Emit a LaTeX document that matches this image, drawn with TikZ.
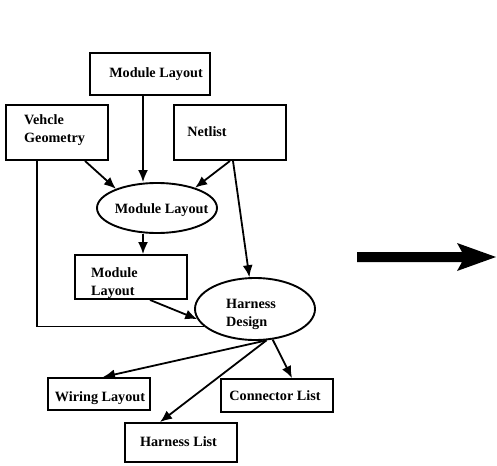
\documentclass[tikz,border=0pt]{standalone}
\usepackage{fontspec}
\setmainfont{Liberation Serif}
\usetikzlibrary{arrows.meta,shapes.geometric,calc}
\tikzset{
  boxnode/.style={draw, line width=1.9pt, rectangle, inner sep=0pt},
  ellnode/.style={draw, line width=1.9pt, ellipse, inner sep=0pt},
  txt/.style={font=\fontsize{14.2}{18}\selectfont\bfseries, inner sep=0pt},
  arr/.style={line width=1.8pt, -{Latex[length=12pt,width=10pt]}},
  ln/.style={line width=1.8pt},
}
\begin{document}
\begin{tikzpicture}[x=1pt,y=-1pt]
\useasboundingbox (0,0) rectangle (497,465);
% boxes
\node[boxnode, minimum width=120pt, minimum height=42pt] (tm) at (150,74) {};
\node[boxnode, minimum width=102pt, minimum height=55pt] (vg) at (57,132.5) {};
\node[boxnode, minimum width=112pt, minimum height=55pt] (nl) at (230,132.5) {};
\node[ellnode, minimum width=120pt, minimum height=50pt] (ml) at (157,208) {};
\node[boxnode, minimum width=112pt, minimum height=44pt] (mb) at (131,277) {};
\node[ellnode, minimum width=120pt, minimum height=62pt] (hd) at (255,309) {};
\node[boxnode, minimum width=102pt, minimum height=32pt] (wl) at (99,394) {};
\node[boxnode, minimum width=112pt, minimum height=33pt] (cl) at (277,395.5) {};
\node[boxnode, minimum width=112pt, minimum height=39pt] (hl) at (181,442.5) {};
% texts
\node[txt] (tmt) at (156,74) {Module Layout};
\node[txt, anchor=west, align=left] (vgt) at (24,130) {Vehcle\\Geometry};
\node[txt] (nlt) at (207,132) {Netlist};
\node[txt] (mlt) at (161.5,210) {Module Layout};
\node[txt, anchor=west, align=left] (mbt) at (91,283) {Module\\Layout};
\node[txt, anchor=west, align=left] (hdt) at (226,314) {Harness\\Design};
\node[txt] (wlt) at (100,398) {Wiring Layout};
\node[txt] (clt) at (275,396) {Connector List};
\node[txt] (hlt) at (178.5,442) {Harness List};
% connectors
\draw[arr] ([xshift=-7pt]tm.south) -- ([xshift=-7pt]tm.south |- ml.north);
\draw[arr] ([xshift=28pt]vg.south) -- (ml.155);
\draw[arr] (nl.south) -- (ml.28);
\draw[arr] ([xshift=3pt]nl.south) -- (hd.100);
\draw[arr] ([xshift=-14pt]ml.south) -- ([xshift=12pt]mb.north);
\draw[arr] ([xshift=19pt]mb.south) -- (hd.190);
\draw[ln] ([xshift=-20pt]vg.south) |- (hd.199);
\draw[arr] (hd.-70) -- ([xshift=4pt]wl.north);
\draw[arr] (hd.-70) -- ([xshift=-21pt]hl.north);
\draw[arr] (hd.-60) -- ([xshift=15pt]cl.north);
% big arrow
\fill (357,252) -- (462,252) -- (457,243) -- (496,257) -- (457,271) -- (462,262) -- (357,262) -- cycle;
\end{tikzpicture}
\end{document}
